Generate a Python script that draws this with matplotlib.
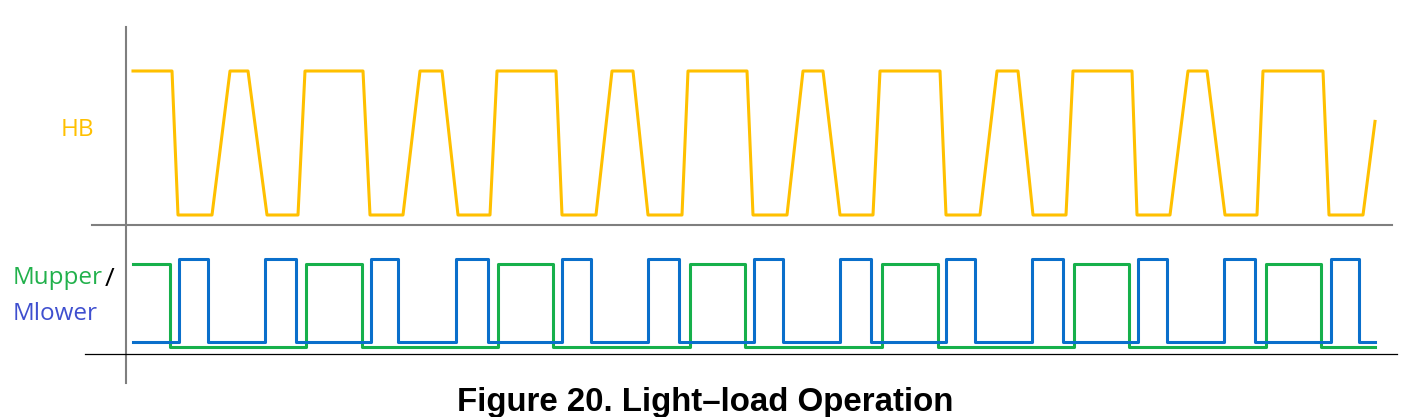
#!/usr/bin/env python3
"""
Light-load operation: HB switch node and Mupper/Mlower gate signals
"""

import numpy as np
import matplotlib
matplotlib.use('Agg')
import matplotlib.pyplot as plt
from matplotlib.lines import Line2D

# time axis in arbitrary units (trace starts at 0)
# HB node: piecewise-linear breakpoints read from the scope capture
hb_t = [0, 39, 45, 79, 97, 115, 134, 165, 172, 230, 237, 270, 287, 309, 325,
        357, 364, 423, 429, 463, 479, 500, 515, 549, 555, 614, 620, 654, 670,
        690, 707, 740, 747, 807, 813, 847, 864, 885, 900, 933, 940, 999, 1004,
        1037, 1055, 1074, 1092, 1124, 1130, 1190, 1196, 1230, 1242]
hb_v = [1, 1, 0, 0] * 13 + [0.65]

# gate signals: switching instants (toggle at each edge)
mlower_edges = [46, 75, 132, 163, 238, 265, 323, 355, 429, 458, 515, 546, 621,
                650, 707, 738, 813, 842, 899, 930, 1005, 1034, 1091, 1122,
                1198, 1226]
mlower_start = 0
mupper_edges = [37, 173, 229, 365, 420, 557, 612, 749, 805, 941, 996, 1133,
                1188]
mupper_start = 1
t_end = 1242

# colours / styles
C_HB = '#FFC000'
C_UP = '#16B04B'
C_LO = '#0A6FCB'
C_UP_TXT = '#22B14C'
C_LO_TXT = '#3F4FCF'
BLUE_OFFSET = 0.06  # channel position offset on the scope
LW = 2.2


def step_trace(edges, start, end):
    t = [0] + list(edges) + [end]
    v = [start]
    for _ in edges:
        v.append(1 - v[-1])
    v.append(v[-1])
    return np.array(t), np.array(v, dtype=float)


W, H = 1422, 417
fig = plt.figure(figsize=(W / 100, H / 100), dpi=100)

def fx(px):
    return px / W

def fy(py):
    return 1 - py / H

xlim = (-133, W - 133)

# HB axes: level 0 -> y=215 px, level 1 -> y=71 px
ax_hb = fig.add_axes([0, fy(215), 1, fy(71) - fy(215)])
ax_hb.plot(hb_t, hb_v, color=C_HB, lw=LW, clip_on=False,
           solid_joinstyle='round')
ax_hb.set_xlim(*xlim)
ax_hb.set_ylim(0, 1)
ax_hb.axis('off')

# gate axes: level 0 -> y=347 px, level 1 -> y=264 px
ax_m = fig.add_axes([0, fy(347), 1, fy(264) - fy(347)])
t_up, v_up = step_trace(mupper_edges, mupper_start, t_end)
t_lo, v_lo = step_trace(mlower_edges, mlower_start, t_end)
ax_m.plot(t_up, v_up, color=C_UP, lw=LW, drawstyle='steps-post',
          clip_on=False)
ax_m.plot(t_lo, v_lo + BLUE_OFFSET, color=C_LO, lw=LW,
          drawstyle='steps-post', clip_on=False)
ax_m.set_xlim(*xlim)
ax_m.set_ylim(0, 1)
ax_m.axis('off')

# frame lines
fig.add_artist(Line2D([fx(126), fx(126)], [fy(27), fy(383)],
                      color='#7f7f7f', lw=1.5, transform=fig.transFigure))
fig.add_artist(Line2D([fx(92), fx(1392)], [fy(225), fy(225)],
                      color='#7f7f7f', lw=1.5, transform=fig.transFigure))
fig.add_artist(Line2D([fx(85), fx(1397)], [fy(354), fy(354)],
                      color='black', lw=0.9, transform=fig.transFigure))

# channel labels
lab_font = 'Open Sans'
fig.text(fx(61), fy(136), 'HB', color=C_HB, fontsize=17.5,
         family=lab_font, ha='left', va='baseline')
fig.text(fx(13), fy(284), 'Mupper', color=C_UP_TXT, fontsize=17.5,
         family=lab_font, ha='left', va='baseline')
fig.text(fx(105), fy(286), '/', color='black', fontsize=19,
         family=lab_font, ha='left', va='baseline')
fig.text(fx(13), fy(320), 'Mlower', color=C_LO_TXT, fontsize=17.5,
         family=lab_font, ha='left', va='baseline')

# caption
fig.text(fx(705), fy(411), 'Figure 20. Light\u2013load Operation',
         fontsize=23.8, fontweight='bold', family='Liberation Sans',
         ha='center', va='baseline')

fig.savefig('out.png', dpi=100)
